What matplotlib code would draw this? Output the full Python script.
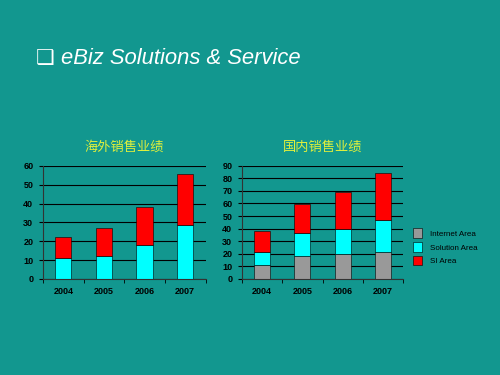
import matplotlib.pyplot as plt
import numpy as np

plt.rcParams['font.family'] = ['Liberation Sans', 'Noto Sans CJK SC', 'DejaVu Sans']

years = ['2004', '2005', '2006', '2007']

# overseas sales (left chart)
overseas_solution = [11, 12, 18, 28.5]
overseas_si = [11.5, 15, 20, 27]

# domestic sales (right chart)
domestic_internet = [11, 18.5, 20, 21.5]
domestic_solution = [10.5, 18, 20, 25.5]
domestic_si = [17, 23, 29, 37]

bg = '#12978f'
title_color = '#e0f03c'
c_grey = '#999999'
c_cyan = '#00ffff'
c_red = '#ff0000'

fig = plt.figure(figsize=(5, 3.75), dpi=100, facecolor=bg)

fig.text(0.072, 0.845, '\u2751', color='white', fontsize=15, family=['DejaVu Sans'],
         va='center', ha='left')
fig.text(0.122, 0.845, 'eBiz Solutions & Service', color='white', fontsize=15.8,
         style='italic', va='center', ha='left')


def style_axes(ax, ymax, step):
    ax.set_facecolor(bg)
    ax.set_xlim(-0.5, 3.5)
    ax.set_ylim(0, ymax)
    ax.set_yticks(np.arange(0, ymax + 1, step))
    ax.set_xticks(range(len(years)))
    ax.set_xticklabels(years)
    ax.set_xticks(np.arange(-0.5, 4, 1), minor=True)
    ax.tick_params(axis='x', which='major', length=0, pad=6)
    ax.tick_params(axis='x', which='minor', length=3, direction='out')
    ax.tick_params(axis='y', length=3, direction='out', pad=4)
    for lab in ax.get_xticklabels() + ax.get_yticklabels():
        lab.set_fontsize(6.5)
        lab.set_fontweight('bold')
        lab.set_color('black')
    ax.grid(axis='y', color='black', linewidth=0.8)
    ax.set_axisbelow(True)
    ax.spines['right'].set_visible(False)
    ax.spines['top'].set_visible(False)
    for s in ['left', 'bottom']:
        ax.spines[s].set_color('#333333')
        ax.spines[s].set_linewidth(0.8)


x = np.arange(len(years))
w = 0.4

ax1 = fig.add_axes([0.086, 0.256, 0.325, 0.302])
ax1.bar(x, overseas_solution, w, color=c_cyan, edgecolor='black', linewidth=0.4)
ax1.bar(x, overseas_si, w, bottom=overseas_solution, color=c_red,
        edgecolor='black', linewidth=0.4)
style_axes(ax1, 60, 10)
fig.text(0.248, 0.607, '海外销售业绩', color=title_color, fontsize=9.5,
         ha='center', va='center', family=['Noto Sans CJK SC'])

ax2 = fig.add_axes([0.484, 0.256, 0.322, 0.302])
b1 = ax2.bar(x, domestic_internet, w, color=c_grey, edgecolor='black', linewidth=0.4)
bottom2 = domestic_internet
b2 = ax2.bar(x, domestic_solution, w, bottom=bottom2, color=c_cyan,
             edgecolor='black', linewidth=0.4)
bottom3 = [a + b for a, b in zip(domestic_internet, domestic_solution)]
b3 = ax2.bar(x, domestic_si, w, bottom=bottom3, color=c_red,
             edgecolor='black', linewidth=0.4)
style_axes(ax2, 90, 10)
fig.text(0.645, 0.607, '国内销售业绩', color=title_color, fontsize=9.5,
         ha='center', va='center', family=['Noto Sans CJK SC'])

leg = fig.legend([b1, b2, b3], ['Internet Area', 'Solution Area', 'SI Area'],
                 loc='upper left', bbox_to_anchor=(0.812, 0.41),
                 frameon=False, fontsize=5.8, handlelength=1.1, handleheight=1.4,
                 labelspacing=0.55, handletextpad=1.0)
for t in leg.get_texts():
    t.set_color('black')

fig.savefig('out.png', dpi=100, facecolor=bg)
